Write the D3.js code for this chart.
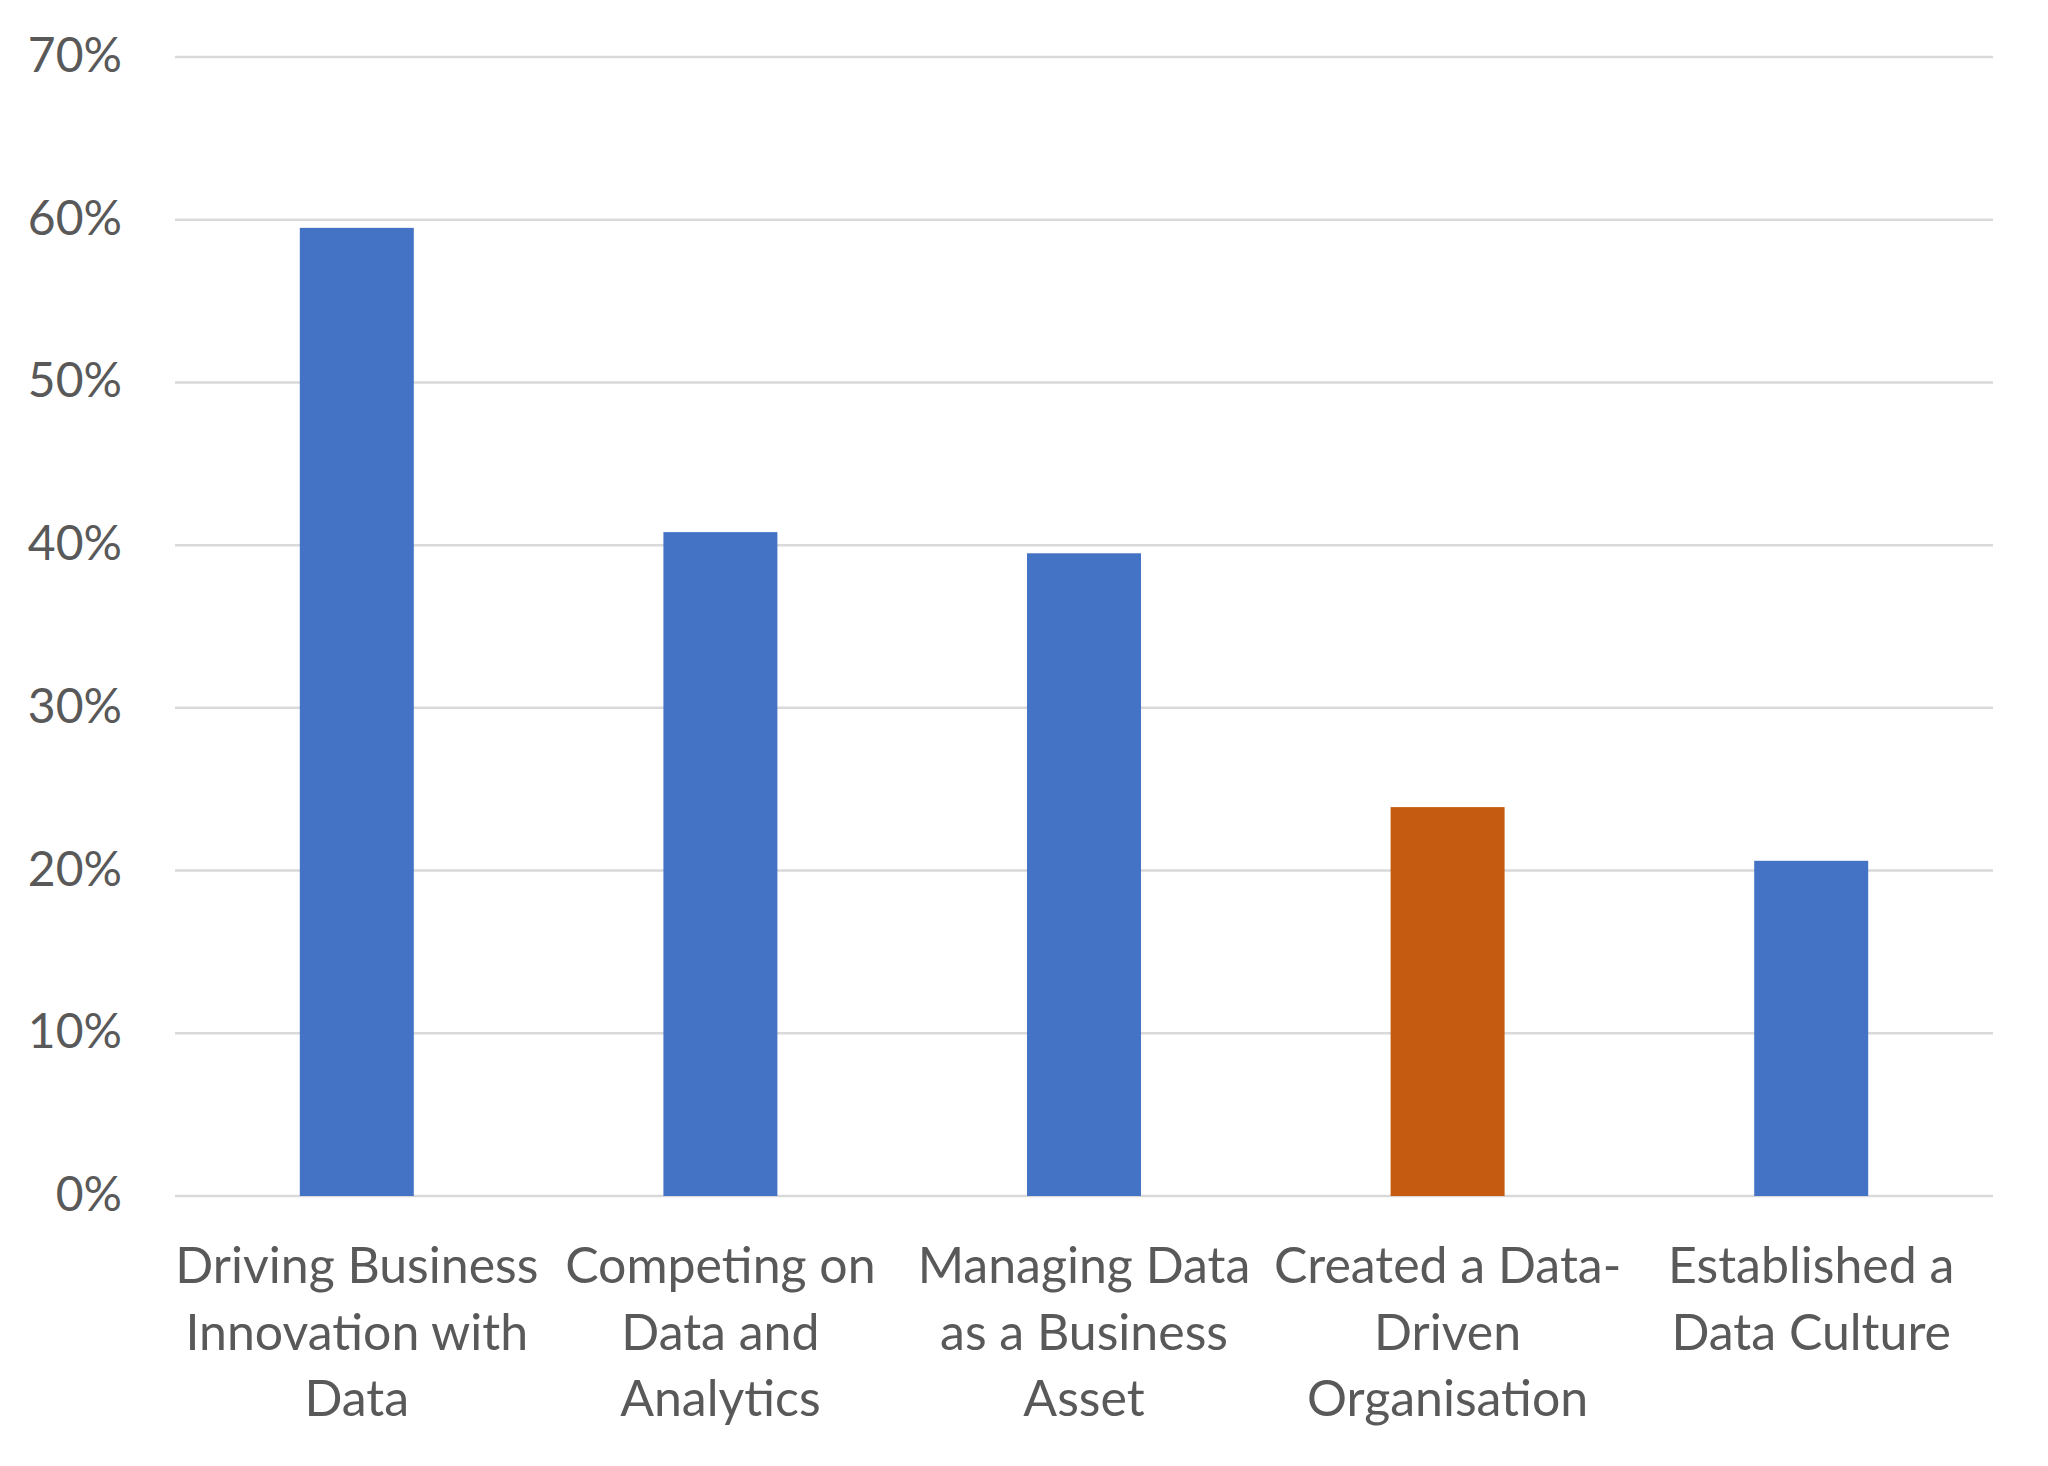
<!DOCTYPE html>
<html>
<head>
<meta charset="utf-8">
<script src="https://cdn.jsdelivr.net/npm/d3@7/dist/d3.min.js"></script>
<style>
  html, body { margin: 0; padding: 0; background: #ffffff; }
  svg { display: block; }
  text { font-family: Lato, "Open Sans", sans-serif; fill: #595959; }
</style>
</head>
<body>
<svg id="chart" width="2048" height="1466"></svg>
<script>
// ---- data ----
const categories = [
  "Driving Business Innovation with Data",
  "Competing on Data and Analytics",
  "Managing Data as a Business Asset",
  "Created a Data-Driven Organisation",
  "Established a Data Culture"
];
const labelLines = [
  ["Driving Business", "Innovation with", "Data"],
  ["Competing on", "Data and", "Analytics"],
  ["Managing Data", "as a Business", "Asset"],
  ["Created a Data-", "Driven", "Organisation"],
  ["Established a", "Data Culture"]
];
const values = [0.595, 0.408, 0.395, 0.239, 0.206];
const highlight = [false, false, false, true, false];
const yTicks = [0, 0.1, 0.2, 0.3, 0.4, 0.5, 0.6, 0.7];

// ---- layout ----
const svg = d3.select("#chart");
const plotLeft = 175, plotRight = 1993, plotTop = 57, plotBottom = 1196;

const x = d3.scaleBand().domain(categories).range([plotLeft, plotRight]).padding(0);
const y = d3.scaleLinear().domain([0, 0.7]).range([plotBottom, plotTop]);
const barW = x.bandwidth() / 3.19;

// gridlines
svg.append("g").selectAll("line").data(yTicks).join("line")
  .attr("x1", plotLeft).attr("x2", plotRight)
  .attr("y1", d => y(d)).attr("y2", d => y(d))
  .attr("stroke", "#d9d9d9").attr("stroke-width", 2.5);

// y labels
const fmt = d3.format(".0%");
svg.append("g").selectAll("text").data(yTicks).join("text")
  .attr("x", 122).attr("y", d => y(d) + 15)
  .attr("text-anchor", "end")
  .attr("font-size", 48)
  .text(d => fmt(d));

// bars
svg.append("g").selectAll("rect").data(categories).join("rect")
  .attr("x", d => x(d) + x.bandwidth() / 2 - barW / 2)
  .attr("width", barW)
  .attr("y", (d, i) => y(values[i]))
  .attr("height", (d, i) => y(0) - y(values[i]))
  .attr("fill", (d, i) => highlight[i] ? "#c55a11" : "#4472c4");

// x labels
const xl = svg.append("g").selectAll("text").data(categories).join("text")
  .attr("text-anchor", "middle")
  .attr("font-size", 50)
  .attr("transform", d => `translate(${x(d) + x.bandwidth() / 2},1283)`);
xl.selectAll("tspan").data((d, i) => labelLines[i]).join("tspan")
  .attr("x", 0).attr("y", (d, j) => j * 66.7)
  .text(d => d);
</script>
</body>
</html>
